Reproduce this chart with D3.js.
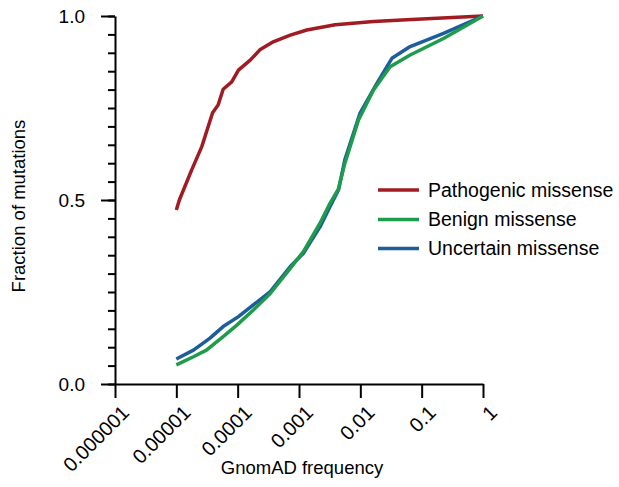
<!DOCTYPE html>
<html>
<head>
<meta charset="utf-8">
<script src="https://cdn.jsdelivr.net/npm/d3@7"></script>
<style>
  body { margin: 0; background: #fff; }
  text { font-family: "Liberation Sans", Arial, sans-serif; fill: #000; }
</style>
</head>
<body>
<div id="chart"></div>
<script>
// tick labels on the x axis
var xTicks = [1e-6, 1e-5, 1e-4, 1e-3, 1e-2, 1e-1, 1];
var xTickLabels = ["0.000001", "0.00001", "0.0001", "0.001", "0.01", "0.1", "1"];

// cumulative fractions
var pathoFreq = [1e-5, 1.12e-5, 1.78e-5, 2.6e-5, 3.9e-5, 4.8e-5, 5.8e-5, 8.0e-5, 1.03e-4, 1.6e-4, 2.3e-4, 3.8e-4, 7.2e-4, 1.34e-3, 3.9e-3, 0.0164, 0.057, 0.26, 1];
var pathoVal  = [0.473, 0.50, 0.582, 0.645, 0.737, 0.758, 0.801, 0.821, 0.853, 0.880, 0.908, 0.930, 0.948, 0.962, 0.976, 0.985, 0.990, 0.995, 1.0];

var benignFreq = [1e-5, 1.9e-5, 3.1e-5, 5.8e-5, 9.7e-5, 1.8e-4, 3.4e-4, 7.2e-4, 1.18e-3, 2.2e-3, 3.2e-3, 4.4e-3, 5.6e-3, 9.3e-3, 0.0164, 0.0306, 0.0649, 0.227, 1];
var benignVal  = [0.052, 0.074, 0.092, 0.129, 0.160, 0.201, 0.246, 0.314, 0.360, 0.437, 0.491, 0.530, 0.600, 0.717, 0.799, 0.862, 0.894, 0.939, 1.0];

var uncertFreq = [1e-5, 1.9e-5, 3.5e-5, 5.8e-5, 1.03e-4, 1.8e-4, 3.4e-4, 7.2e-4, 1.18e-3, 2.2e-3, 3.2e-3, 4.4e-3, 5.6e-3, 9.9e-3, 0.0186, 0.0327, 0.0649, 0.227, 1];
var uncertVal  = [0.068, 0.092, 0.124, 0.156, 0.183, 0.215, 0.251, 0.319, 0.355, 0.427, 0.482, 0.527, 0.610, 0.736, 0.817, 0.885, 0.917, 0.953, 1.0];

var seriesNames = ["Pathogenic missense", "Benign missense", "Uncertain missense"];
var colors = ["#a01c22", "#1e9b4b", "#1c5d9c"];

var W = 619, H = 487;
var svg = d3.select("#chart").append("svg")
  .attr("width", W)
  .attr("height", H);

var x = d3.scaleLog().domain([1e-6, 1]).range([115, 483]);
var y = d3.scaleLinear().domain([0, 1]).range([384, 16]);

// y axis: minor ticks every 0.05, labelled ones at 0, .5, 1
var minor = d3.range(0, 21).map(function(i){ return i * 0.05; });
svg.append("g")
  .attr("transform", "translate(115,0)")
  .call(d3.axisLeft(y).tickValues(minor).tickSize(7).tickSizeOuter(0).tickFormat(""))
  .call(function(g){ g.selectAll("line, path").attr("stroke", "#000").attr("stroke-width", 2); });

svg.append("g")
  .attr("transform", "translate(115,0)")
  .call(d3.axisLeft(y).tickValues([0, 0.5, 1]).tickSize(14).tickSizeOuter(0).tickPadding(16).tickFormat(d3.format(".1f")))
  .call(function(g){
    g.select(".domain").remove();
    g.selectAll("line").attr("stroke", "#000").attr("stroke-width", 2);
    g.selectAll("text").attr("font-size", "19px").attr("font-family", null);
  });

// x axis
var xAxis = svg.append("g")
  .attr("transform", "translate(0,384)")
  .call(d3.axisBottom(x).tickValues(xTicks).tickSize(14).tickSizeOuter(0).tickFormat(function(d, i){ return xTickLabels[i]; }));
xAxis.selectAll("line, path").attr("stroke", "#000").attr("stroke-width", 2);
xAxis.selectAll("text")
  .attr("font-size", "20px")
  .attr("font-family", null)
  .attr("text-anchor", "end")
  .attr("y", null)
  .attr("dy", "0.35em")
  .attr("transform", "translate(10,25) rotate(-45)");

// curves
var line = d3.line()
  .x(function(d){ return x(d[0]); })
  .y(function(d){ return y(d[1]); });

var curves = [
  d3.zip(pathoFreq, pathoVal),
  d3.zip(benignFreq, benignVal),
  d3.zip(uncertFreq, uncertVal)
];
// draw order: pathogenic, uncertain, benign on top
[0, 2, 1].forEach(function(k){
  svg.append("path")
    .datum(curves[k])
    .attr("d", line)
    .attr("fill", "none")
    .attr("stroke", colors[k])
    .attr("stroke-width", 3.5)
    .attr("stroke-linejoin", "round");
});

// legend
var legY = [190, 219.5, 248.5];
var leg = svg.append("g");
seriesNames.forEach(function(name, i){
  leg.append("line")
    .attr("x1", 378).attr("x2", 419)
    .attr("y1", legY[i]).attr("y2", legY[i])
    .attr("stroke", colors[i])
    .attr("stroke-width", 3.5);
  leg.append("text")
    .attr("x", 428)
    .attr("y", legY[i])
    .attr("dy", "0.35em")
    .attr("font-size", "19.5px")
    .text(name);
});

// axis titles
svg.append("text")
  .attr("x", 302)
  .attr("y", 474)
  .attr("text-anchor", "middle")
  .attr("font-size", "18.5px")
  .text("GnomAD frequency");

svg.append("text")
  .attr("transform", "translate(25,206) rotate(-90)")
  .attr("text-anchor", "middle")
  .attr("font-size", "18.5px")
  .text("Fraction of mutations");
</script>
</body>
</html>
